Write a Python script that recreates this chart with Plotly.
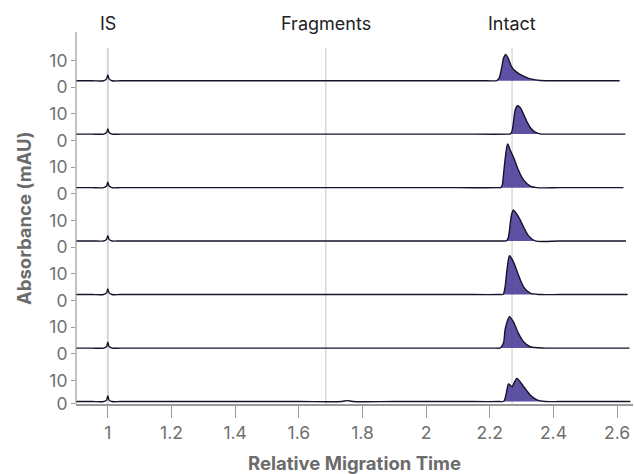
import plotly.graph_objects as go

# ---- data: relative migration time vs absorbance (mAU), seven runs ----
time_start = 0.9
run_end = [2.608, 2.626, 2.620, 2.628, 2.633, 2.639, 2.642]
baseline_mau = [2.4, 2.4, 2.3, 2.3, 2.2, 2.1, 1.0]

# flat baseline sample times (before and after the intact peak)
flat_pre_t = [0.95, 1.04, 1.2, 1.4, 1.6, 1.9, 2.1]
flat_post_t = [2.42, 2.5, 2.58]

# internal standard peak at t = 1
is_t = [0.987, 0.996, 1.0, 1.004, 1.013]
is_mau = [
    [2.4, 3.1, 4.6, 3.1, 2.4],
    [2.4, 3.0, 4.3, 3.0, 2.4],
    [2.3, 2.9, 4.3, 2.9, 2.3],
    [2.3, 2.9, 4.3, 2.9, 2.3],
    [2.2, 2.8, 4.3, 2.8, 2.2],
    [2.1, 2.7, 4.3, 2.7, 2.1],
    [1.0, 1.6, 3.4, 1.6, 1.0],
]

# small fragment-region feature (last run)
minor_t = [[], [], [], [], [], [], [1.735, 1.752, 1.770]]
minor_mau = [[], [], [], [], [], [], [1.0, 1.4, 1.0]]

# intact peak for each run
run1_t = [2.191, 2.222, 2.230, 2.238, 2.243, 2.250, 2.258, 2.266, 2.274, 2.290, 2.311, 2.332, 2.358]
run1_mau = [2.4, 2.5, 3.6, 7.7, 10.8, 12.3, 10.8, 8.3, 6.7, 5.2, 3.9, 3.0, 2.5]
run2_t = [2.255, 2.265, 2.270, 2.274, 2.280, 2.287, 2.296, 2.306, 2.317, 2.329, 2.343, 2.358]
run2_mau = [2.4, 2.5, 3.6, 6.4, 11.4, 13.0, 12.3, 9.9, 7.0, 4.6, 3.1, 2.5]
run3_t = [2.225, 2.236, 2.240, 2.243, 2.248, 2.256, 2.264, 2.274, 2.290, 2.306, 2.327, 2.348]
run3_mau = [2.3, 2.4, 3.8, 7.0, 12.7, 18.7, 16.4, 13.9, 8.9, 5.2, 2.9, 2.3]
run4_t = [2.240, 2.253, 2.258, 2.262, 2.265, 2.269, 2.274, 2.290, 2.306, 2.322, 2.343]
run4_mau = [2.3, 2.4, 3.5, 6.4, 9.5, 12.4, 13.9, 11.4, 7.6, 4.2, 2.3]
run5_t = [2.230, 2.242, 2.248, 2.254, 2.262, 2.274, 2.290, 2.306, 2.327, 2.358]
run5_mau = [2.2, 2.3, 5.0, 11.4, 16.7, 14.5, 9.5, 5.1, 2.7, 2.2]
run6_t = [2.215, 2.233, 2.243, 2.248, 2.255, 2.262, 2.274, 2.290, 2.306, 2.327, 2.374]
run6_mau = [2.1, 2.2, 4.0, 8.9, 12.2, 13.9, 12.0, 7.6, 4.5, 2.6, 2.1]
run7_t = [2.230, 2.244, 2.252, 2.259, 2.270, 2.285, 2.306, 2.327, 2.348, 2.374]
run7_mau = [1.0, 1.1, 4.6, 8.5, 7.4, 10.9, 7.4, 3.8, 1.7, 1.0]

peak_t = [run1_t, run2_t, run3_t, run4_t, run5_t, run6_t, run7_t]
peak_mau = [run1_mau, run2_mau, run3_mau, run4_mau, run5_mau, run6_mau, run7_mau]

region_names = ["IS", "Fragments", "Intact"]
region_t = [1.0, 1.685, 2.27]

x_ticks = [1.0, 1.2, 1.4, 1.6, 1.8, 2.0, 2.2, 2.4, 2.6]
x_tick_text = ["1", "1.2", "1.4", "1.6", "1.8", "2", "2.2", "2.4", "2.6"]
y_ticks = [0, 10]

# ---- layout geometry (pixels) ----
W, H = 634, 474
M_L, M_R, M_T, M_B = 76, 1, 32, 70
PLOT_TOP, PLOT_BOT = M_T, H - M_B
PLOT_H = PLOT_BOT - PLOT_TOP
row_zero_px = [87.2 + 53.3 * k for k in range(6)] + [404.0]
row_scale = [2.67] * 6 + [2.35]          # px per mAU
row_ymin = [-0.3] * 6 + [-0.05]
row_ymax = 20.0

GRAY = "#9a9a9a"
TICK_GRAY = "#707070"
FILL = "rgba(75,62,153,0.9)"
LINE = "#15142b"
FONT = "Inter"


def px_to_paper(py):
    return (PLOT_BOT - py) / PLOT_H


def merge(ts, ys):
    pairs = sorted(zip(ts, ys))
    return [p[0] for p in pairs], [p[1] for p in pairs]


fig = go.Figure()

for k in range(7):
    yname = "y" if k == 0 else f"y{k + 1}"
    b = baseline_mau[k]
    pre = [t for t in flat_pre_t if t < peak_t[k][0]
           and all(abs(t - m) > 0.03 for m in minor_t[k])]
    post = [t for t in flat_post_t if peak_t[k][-1] < t < run_end[k]]
    t_all = [time_start] + pre + is_t + minor_t[k] + peak_t[k] + post + [run_end[k]]
    y_all = [b] + [b] * len(pre) + is_mau[k] + minor_mau[k] + peak_mau[k] \
        + [b] * len(post) + [b]
    t_all, y_all = merge(t_all, y_all)
    # filled intact peak: baseline segment then peak filled to it
    fig.add_trace(go.Scatter(
        x=[peak_t[k][0], peak_t[k][-1]], y=[b, b], yaxis=yname,
        mode="lines", line=dict(width=0, color=FILL), hoverinfo="skip",
        showlegend=False))
    fig.add_trace(go.Scatter(
        x=peak_t[k], y=peak_mau[k], yaxis=yname, mode="lines",
        line=dict(width=0, shape="spline", smoothing=0.8, color=FILL),
        fill="tonexty", fillcolor=FILL, hoverinfo="skip", showlegend=False))
    fig.add_trace(go.Scatter(
        x=t_all, y=y_all, yaxis=yname, mode="lines",
        line=dict(width=1.4, color=LINE, shape="spline", smoothing=0.8),
        showlegend=False))

layout = dict(
    width=W, height=H,
    margin=dict(l=M_L, r=M_R, t=M_T, b=M_B, pad=0),
    paper_bgcolor="white", plot_bgcolor="rgba(0,0,0,0)",
    font=dict(family=FONT, size=17, color=TICK_GRAY),
    showlegend=False,
    xaxis=dict(
        range=[0.9, 2.65], anchor="y7", showgrid=False, zeroline=False,
        showline=True, linecolor=GRAY, linewidth=1.5,
        tickmode="array", tickvals=x_ticks, ticktext=x_tick_text,
        ticks="outside", ticklen=12, tickwidth=1.2, tickcolor=GRAY,
        tickfont=dict(family=FONT, size=17.5, color=TICK_GRAY)),
)

for k in range(7):
    key = "yaxis" if k == 0 else f"yaxis{k + 1}"
    y0 = row_zero_px[k]
    s = row_scale[k]
    bot_px = y0 - row_ymin[k] * s
    top_px = y0 - row_ymax * s
    layout[key] = dict(
        domain=[max(0.0, px_to_paper(bot_px)), min(1.0, px_to_paper(top_px))],
        range=[row_ymin[k], row_ymax], anchor="x",
        showgrid=False, zeroline=False, showline=False,
        tickmode="array", tickvals=y_ticks,
        ticks="outside", ticklen=4, tickwidth=1, tickcolor=GRAY,
        tickfont=dict(family=FONT, size=17.5, color=TICK_GRAY))

fig.update_layout(**layout)

# continuous y axis line
fig.add_shape(type="line", xref="paper", yref="paper", x0=0, x1=0, y0=0, y1=1,
              line=dict(color=GRAY, width=1.2), layer="above")

# region markers
line_top = px_to_paper(48)
for name, t in zip(region_names, region_t):
    fig.add_shape(type="line", xref="x", yref="paper", x0=t, x1=t,
                  y0=0, y1=line_top, layer="below",
                  line=dict(color="#d6d6d6" if name == "IS" else "#c6c6c6",
                            width=2 if name == "IS" else 1))
    fig.add_annotation(x=t, xref="x", y=px_to_paper(23), yref="paper",
                       text=name, showarrow=False, yanchor="middle",
                       font=dict(family=FONT, size=18, color="#222222"))

# axis titles
fig.add_annotation(x=0.5, xref="paper", y=px_to_paper(463), yref="paper",
                   text="<b>Relative Migration Time</b>", showarrow=False,
                   yanchor="middle",
                   font=dict(family=FONT, size=18.5, color="#6b6b6b"))
fig.add_annotation(x=(24 - M_L) / (W - M_L - M_R), xref="paper",
                   y=px_to_paper(218), yref="paper",
                   text="<b>Absorbance (mAU)</b>", showarrow=False,
                   textangle=-90, xanchor="center", yanchor="middle",
                   font=dict(family=FONT, size=18.5, color="#6b6b6b"))

fig.write_html("out.html")
